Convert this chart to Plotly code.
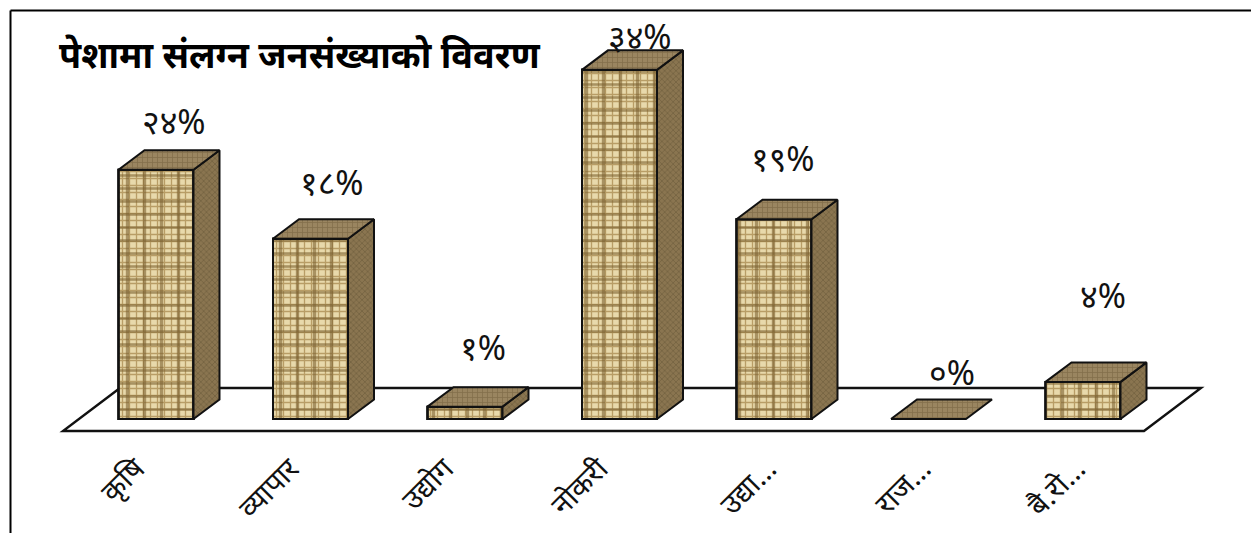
import plotly.graph_objects as go

categories = ["कृषि", "व्यापार", "उद्योग", "नोकरी", "उद्या…", "राज…", "बै.रो…"]
values = [24.2, 17.5, 1.2, 33.9, 19.4, 0.0, 3.6]
value_labels = ["२४%", "१८%", "१%", "३४%", "१९%", "०%", "४%"]
title_text = "पेशामा संलग्न जनसंख्याको विवरण"

W, H = 1251, 533
PX_X, PX_Y = 154.5, 10.3          # pixels per category / per percent
X0_PX, Y0_PX, AXIS_PX = 156, 419, 445
BAR_W = 75 / PX_X
DX, DY = 26 / PX_X, 19.5 / PX_Y   # depth of the 3D faces
SPLIT = 4                         # truncated labels sit on their own overlaid axis
label_shift = [(18, 49), (21, 57), (18, 60), (20, 34), (9, 61), (23, 47), (20, 87)]
FONT = "Noto Sans, Noto Sans Devanagari, Lohit Devanagari, sans-serif"
LINE = dict(color="#111111", width=2)

idx = list(range(len(categories)))
fig = go.Figure()

# front faces: a woven base with sparse darker threads laid over it
fig.add_trace(go.Bar(
    x=idx, y=values, width=BAR_W, showlegend=False, hoverinfo="skip",
    marker=dict(color="#dcc78f", line=LINE,
                pattern=dict(shape="+", size=7, solidity=0.34, fgcolor="#b89d66",
                             bgcolor="#e8d9ab", fillmode="replace")),
))
for shape, size in (("-", 13), ("|", 17)):
    fig.add_trace(go.Bar(
        x=idx, y=values, width=BAR_W, showlegend=False, hoverinfo="skip",
        marker=dict(color="rgba(0,0,0,0)", line=LINE,
                    pattern=dict(shape=shape, size=size, solidity=0.2, fgcolor="rgba(125,98,50,0.6)",
                                 bgcolor="rgba(0,0,0,0)", fillmode="replace")),
    ))

def face(i, xs, ys, bg, fg, shape, size, sol):
    fig.add_trace(go.Scatter(
        x=xs, y=ys, mode="lines", fill="toself", line=LINE, showlegend=False,
        hoverinfo="skip", fillcolor=bg, xaxis="x2" if i >= SPLIT else "x",
        fillpattern=dict(shape=shape, size=size, solidity=sol, fgcolor=fg, bgcolor=bg),
    ))

for i, v in zip(idx, values):
    l, r = i - BAR_W / 2, i + BAR_W / 2
    if v > 0:
        face(i, [r, r + DX, r + DX, r, r], [0, DY, v + DY, v, 0],
             "#8a7550", "#54452b", "x", 4, 0.3)
    face(i, [l, r, r + DX, l + DX, l], [v, v, v + DY, v + DY, v],
         "#9a8560", "#6a5634", "+", 5, 0.28)

annotations = [
    dict(x=i, y=v, xref="x", yref="y", text=t, showarrow=False,
         xanchor="center", yanchor="middle", xshift=s[0], yshift=s[1],
         font=dict(family=FONT, size=34, color="#111111"))
    for i, v, t, s in zip(idx, values, value_labels, label_shift)
]

# floor, from the axis scale
FLOOR_L, FLOOR_R = (63 - X0_PX) / PX_X, (1144 - X0_PX) / PX_X
FLOOR_F, FLOOR_BK = (Y0_PX - 431) / PX_Y, (Y0_PX - 388) / PX_Y
FLOOR_D = 57 / PX_X
floor = (f"M {FLOOR_L} {FLOOR_F} L {FLOOR_R} {FLOOR_F} "
         f"L {FLOOR_R + FLOOR_D} {FLOOR_BK} L {FLOOR_L + FLOOR_D} {FLOOR_BK} Z")

# frame: paper coordinates are relative to the plot area
PH = AXIS_PX
frame_y = 1 - 10.5 / PH
shapes = [
    dict(type="path", path=floor, xref="x", yref="y", layer="below",
         fillcolor="white", line=dict(color="#111111", width=2.4)),
    dict(type="line", xref="paper", yref="paper", x0=10.5 / W, x1=1, y0=frame_y, y1=frame_y,
         line=dict(color="#000000", width=2)),
    dict(type="line", xref="paper", yref="paper", x0=10.5 / W, x1=10.5 / W,
         y0=-(H - AXIS_PX) / PH, y1=frame_y, line=dict(color="#000000", width=2)),
]

x_range = [-X0_PX / PX_X, (W - X0_PX) / PX_X]
common_x = dict(range=x_range, tickangle=-45, showgrid=False, zeroline=False, showline=False,
                ticks="", fixedrange=True, tickfont=dict(family=FONT, size=29, color="#111111"))

fig.update_layout(
    width=W, height=H, autosize=False,
    margin=dict(l=0, r=0, t=0, b=H - AXIS_PX, pad=0),
    paper_bgcolor="white", plot_bgcolor="rgba(0,0,0,0)",
    showlegend=False, barmode="overlay",
    shapes=shapes, annotations=annotations,
    title=dict(text=f"<b>{title_text}</b>", x=59 / W, xanchor="left", xref="container",
               y=1 - 55 / H, yanchor="middle", yref="container",
               font=dict(family=FONT, size=36, color="#000000")),
    xaxis=dict(tickvals=idx[:SPLIT], ticktext=categories[:SPLIT], ticklabelshift=-20, **common_x),
    xaxis2=dict(tickvals=idx[SPLIT:], ticktext=categories[SPLIT:], ticklabelshift=-6,
                overlaying="x", anchor="y", side="bottom", **common_x),
    yaxis=dict(range=[(Y0_PX - AXIS_PX) / PX_Y, Y0_PX / PX_Y], visible=False, fixedrange=True),
)

fig.write_html("out.html", post_script="document.body.style.margin='0';",
               config={"displayModeBar": False})
